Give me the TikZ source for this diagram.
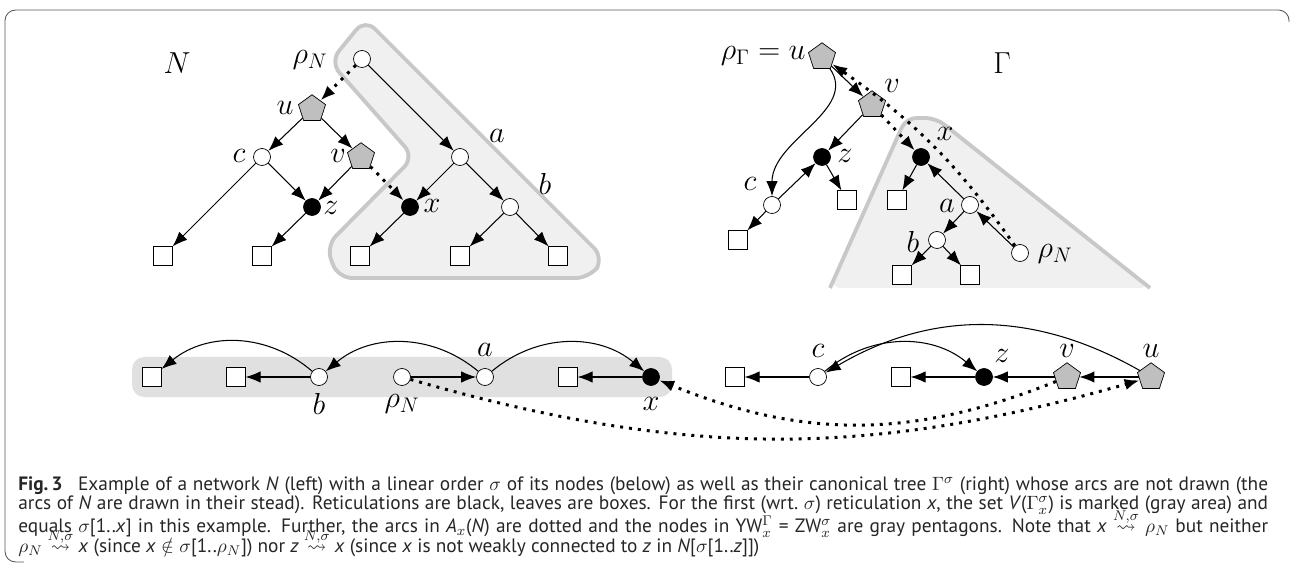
\documentclass[tikz,border=0pt]{standalone}
\usepackage{mathtools, amssymb}
\usepackage{fontspec}
\newfontfamily\capfont{PT Sans}
\usetikzlibrary{arrows.meta, shapes.geometric}

\tikzset{
    vtx/.style={circle, draw, fill=white, inner sep=0pt, minimum size=0.34cm},
    ret/.style={vtx, fill=black},
    lf/.style={rectangle, draw, fill=white, inner sep=0pt, minimum size=0.37cm},
    pent/.style={regular polygon, regular polygon sides=5, draw, fill=gray!50,
        inner sep=0pt, minimum size=0.57cm},
    edg/.style={-{Latex[length=8.5pt, width=6.5pt]}, line width=0.6pt},
    dotedg/.style={edg, line width=1.7pt, dash pattern=on 1.7pt off 3.4pt},
    lab/.style={inner sep=0pt, font=\LARGE},
}

\begin{document}
\begin{tikzpicture}[x=0.02cm, y=-0.02cm]
    \useasboundingbox (0,0) rectangle (1290,563);
    \draw [black!65, line width=0.5pt, rounded corners=6pt]
        (1289,22) -- (1289,10) -- (5,10) -- (5,562) -- (24,562);

    \filldraw [fill=gray!12, draw=gray!43, line width=2.2pt, rounded corners=8pt]
        (330,62) -- (365,19) -- (604,258) -- (590,278) -- (338,278)
        -- (326,246) -- (414,157) -- cycle;
    \fill [gray!12, rounded corners=6pt]
        (830,288) -- (906,118) -- (936,118) -- (1150,288) -- cycle;
    \draw [gray!43, line width=2.2pt, rounded corners=6pt]
        (830,288) -- (906,118) -- (936,118) -- (1150,288);
    \fill [gray!24, rounded corners=7pt] (132,357) rectangle (672,397);

    % the network N
    \node [lab] (tN) at (177,63) {$N$};
    \node [vtx] (rN) at (362,59) {};
    \node [pent] (uN) at (312,109) {};
    \node [vtx] (cN) at (262,157) {};
    \node [pent] (vN) at (361,157) {};
    \node [vtx] (aN) at (460,157) {};
    \node [ret] (zN) at (312,207) {};
    \node [ret] (xN) at (410,207) {};
    \node [vtx] (bN) at (510,207) {};
    \foreach \i/\x in {1/163, 2/262, 3/360, 4/460, 5/558} {
        \node [lf] (lN\i) at (\x,256) {};
    }
    \node [lab] (t-rN) at (310,60) {$\rho_N$};
    \node [lab] (t-uN) at (285,108) {$u$};
    \node [lab] (t-cN) at (239,156) {$c$};
    \node [lab] (t-vN) at (338,156) {$v$};
    \node [lab] (t-aN) at (497,136) {$a$};
    \node [lab] (t-zN) at (331,208) {$z$};
    \node [lab] (t-xN) at (432,206) {$x$};
    \node [lab] (t-bN) at (545,184) {$b$};

    \foreach \s/\t in {rN/aN, uN/cN, uN/vN, cN/lN1, cN/zN, vN/zN, aN/xN,
            aN/bN, zN/lN2, xN/lN3, bN/lN4, bN/lN5} {
        \draw [edg] (\s) -- (\t);
    }
    \draw [dotedg] (rN) -- (uN);
    \draw [dotedg] (vN) -- (xN);

    % the tree Gamma
    \node [lab] (tG) at (1002,63) {$\Gamma$};
    \node [pent] (uG) at (822,57) {};
    \node [pent] (vG) at (872,105) {};
    \node [ret] (zG) at (822,157) {};
    \node [ret] (xG) at (921,157) {};
    \node [vtx] (cG) at (772,205) {};
    \node [vtx] (aG) at (970,205) {};
    \node [vtx] (bG) at (937,240) {};
    \node [vtx] (rG) at (1020,253) {};
    \foreach \i/\x/\y in {1/847/200, 2/897/200, 3/738/240, 4/902/275, 5/970/275} {
        \node [lf] (lG\i) at (\x,\y) {};
    }
    \node [lab, anchor=east] (t-uG) at (806,56) {$\rho_\Gamma = u$};
    \node [lab] (t-vG) at (892,86) {$v$};
    \node [lab] (t-zG) at (845,156) {$z$};
    \node [lab] (t-xG) at (945,134) {$x$};
    \node [lab] (t-cG) at (750,184) {$c$};
    \node [lab] (t-aG) at (947,206) {$a$};
    \node [lab] (t-bG) at (913,242) {$b$};
    \node [lab] (t-rG) at (1055,254) {$\rho_N$};

    \foreach \s/\t in {uG/vG, vG/zG, cG/zG, rG/aG, aG/xG, aG/bG,
            cG/lG3, zG/lG1, xG/lG2, bG/lG4, bG/lG5} {
        \draw [edg] (\s) -- (\t);
    }
    \draw [edg] (uG) .. controls (858,110) and (772,140) .. (cG);
    \draw [dotedg] (vG) -- (xG);
    \draw [dotedg] (rG) to [bend right=10] (uG);

    % the order sigma
    \node [lf] (s1) at (152,377) {};
    \node [lf] (s2) at (236,377) {};
    \node [vtx] (sb) at (319,377) {};
    \node [vtx] (sr) at (402,377) {};
    \node [vtx] (sa) at (485,377) {};
    \node [lf] (s3) at (568,377) {};
    \node [ret] (sx) at (651,377) {};
    \node [lf] (s4) at (735,377) {};
    \node [vtx] (sc) at (818,377) {};
    \node [lf] (s5) at (901,377) {};
    \node [ret] (sz) at (984,377) {};
    \node [pent] (sv) at (1067,377) {};
    \node [pent] (su) at (1151,377) {};
    \node [lab] (t-sb) at (319,404) {$b$};
    \node [lab] (t-sr) at (402,404) {$\rho_N$};
    \node [lab] (t-sa) at (485,350) {$a$};
    \node [lab] (t-sx) at (651,404) {$x$};
    \node [lab] (t-sc) at (818,351) {$c$};
    \node [lab] (t-sz) at (1002,356) {$z$};
    \node [lab] (t-sv) at (1067,351) {$v$};
    \node [lab] (t-su) at (1151,351) {$u$};

    \foreach \s/\t in {sb/s2, sr/sa, sx/s3, sc/s4, sz/s5, sv/sz, su/sv} {
        \draw [edg] (\s) -- (\t);
    }
    \draw [edg] (sb) to [bend right=40] (s1);
    \draw [edg] (sa) to [bend right=40] (sb);
    \draw [edg] (sa) to [bend left=40] (sx);
    \draw [edg] (su) to [bend right=30] (sc);
    \draw [edg] (sc) to [bend left=40] (sz);
    \draw [dotedg] (sv) to [bend left=22] (sx);
    \draw [dotedg] (sr) to [bend right=16] (su);

    \node [anchor=base west, inner sep=0pt, text width=25cm, align=justify,
        font=\capfont\fontsize{11}{11.3}\selectfont, text=black!85] (cap) at (18,490)
        {\textbf{Fig.\,3}\hspace{0.5em} Example of a network \textit{N} (left) with a linear order $\sigma$ of its nodes (below) as well as their canonical tree $\Gamma^\sigma$ (right) whose arcs are not drawn (the\linebreak
        arcs of \textit{N} are drawn in their stead). Reticulations are black, leaves are boxes. For the first (wrt.\ $\sigma$) reticulation \textit{x}, the set \textit{V}($\Gamma^\sigma_x$) is marked (gray area) and\linebreak
        equals $\sigma$[1..\textit{x}] in this example. Further, the arcs in \textit{A}$_x$(\textit{N}) are dotted and the nodes in YW$^\Gamma_x$ = ZW$^\sigma_x$ are gray pentagons. Note that \textit{x} $\smash{\overset{N,\sigma}{\rightsquigarrow}}$ $\rho_N$ but neither\linebreak
        $\rho_N$ $\smash{\overset{N,\sigma}{\rightsquigarrow}}$ \textit{x} (since \textit{x} $\notin \sigma$[1..$\rho_N$]) nor \textit{z} $\smash{\overset{N,\sigma}{\rightsquigarrow}}$ \textit{x} (since \textit{x} is not weakly connected to \textit{z} in \textit{N}[$\sigma$[1..\textit{z}]])};
\end{tikzpicture}
\end{document}
